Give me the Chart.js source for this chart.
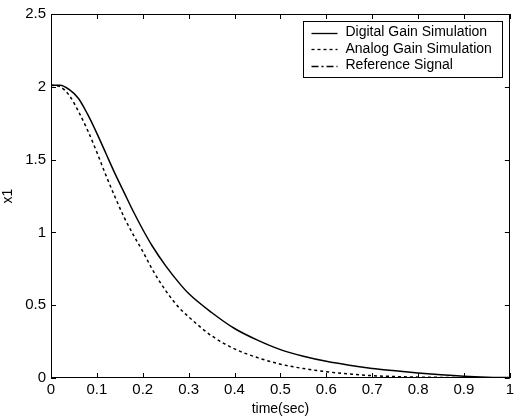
<!DOCTYPE html>
<html>
<head>
<meta charset="utf-8">
<script src="https://cdn.jsdelivr.net/npm/chart.js@4/dist/chart.umd.min.js"></script>
<style>
  html, body { margin: 0; padding: 0; background: #fff; }
  #wrap { width: 517px; height: 418px; }
</style>
</head>
<body>
<div id="wrap"><canvas id="x1Chart" width="517" height="418"></canvas></div>
<script>
// values
var timeSec = [0, 0.02, 0.04, 0.06, 0.08, 0.10, 0.12, 0.14, 0.16, 0.18, 0.20, 0.22, 0.25, 0.28, 0.30,
               0.35, 0.40, 0.45, 0.50, 0.55, 0.60, 0.65, 0.70, 0.75, 0.80, 0.85, 0.90, 0.95, 1.00];
var digitalGain = [2.01, 2.01, 1.98, 1.92, 1.81, 1.68, 1.54, 1.40, 1.27, 1.14, 1.02, 0.91, 0.77, 0.65, 0.58,
                   0.45, 0.34, 0.26, 0.195, 0.15, 0.115, 0.088, 0.066, 0.05, 0.035, 0.022, 0.012, 0.006, 0.003];
var analogGain = [2.01, 2.00, 1.94, 1.83, 1.70, 1.55, 1.39, 1.24, 1.10, 0.98, 0.87, 0.75, 0.60, 0.48, 0.42,
                  0.29, 0.20, 0.14, 0.095, 0.065, 0.043, 0.028, 0.016, 0.01, 0.006, 0.004, 0.002, 0.001, 0];
var referenceSignal = [0, 0, 0, 0, 0, 0, 0, 0, 0, 0, 0, 0, 0, 0, 0,
                       0, 0, 0, 0, 0, 0, 0, 0, 0, 0, 0, 0, 0, 0];

var legendLabels = ['Digital Gain Simulation', 'Analog Gain Simulation', 'Reference Signal'];
var legendDashes = [[], [3, 3], [7, 3, 2, 3]];

function toPoints(ys) {
    return timeSec.map(function(t, i) { return { x: t, y: ys[i] }; });
}

function fmt(v) {
    return String(Math.round(v * 10) / 10);
}

// box round the axes with inner tick marks, matlab style
var boxPlugin = {
    id: 'boxPlugin',
    afterDraw: function(chart) {
        var ctx = chart.ctx;
        var a = chart.chartArea;
        var xs = chart.scales.x, ys = chart.scales.y;
        ctx.save();
        ctx.strokeStyle = '#000';
        ctx.lineWidth = 1;
        ctx.strokeRect(Math.round(a.left) + 0.5, Math.round(a.top) + 0.5,
                       Math.round(a.right - a.left) - 1, Math.round(a.bottom - a.top) - 1);
        ctx.beginPath();
        xs.ticks.forEach(function(t) {
            var px = Math.round(xs.getPixelForValue(t.value)) + 0.5;
            ctx.moveTo(px, a.bottom); ctx.lineTo(px, a.bottom - 5);
            ctx.moveTo(px, a.top); ctx.lineTo(px, a.top + 5);
        });
        ys.ticks.forEach(function(t) {
            var py = Math.round(ys.getPixelForValue(t.value)) + 0.5;
            ctx.moveTo(a.left, py); ctx.lineTo(a.left + 5, py);
            ctx.moveTo(a.right, py); ctx.lineTo(a.right - 5, py);
        });
        ctx.stroke();

        // legend box in the upper right corner
        var bx = Math.round(a.right) - 206.5, by = Math.round(a.top) + 7.5;
        var bw = 199, bh = 56;
        ctx.fillStyle = '#fff';
        ctx.fillRect(bx, by, bw, bh);
        ctx.strokeRect(bx, by, bw, bh);
        ctx.font = '14px "Liberation Sans", Arial, sans-serif';
        ctx.fillStyle = '#000';
        ctx.textBaseline = 'middle';
        legendLabels.forEach(function(lbl, i) {
            var ly = by + 11 + i * 16.5;
            ctx.beginPath();
            ctx.setLineDash(legendDashes[i]);
            ctx.lineWidth = 1.3;
            ctx.moveTo(bx + 8, Math.round(ly) + 0.5);
            ctx.lineTo(bx + 34, Math.round(ly) + 0.5);
            ctx.stroke();
            ctx.setLineDash([]);
            ctx.fillText(lbl, bx + 42, ly);
        });
        ctx.restore();
    }
};

var data = {
    datasets: [{
        label: legendLabels[0],
        data: toPoints(digitalGain),
        borderColor: '#000',
        borderWidth: 1.5,
        pointRadius: 0,
        cubicInterpolationMode: 'monotone'
    }, {
        label: legendLabels[1],
        data: toPoints(analogGain),
        borderColor: '#000',
        borderWidth: 1.5,
        borderDash: legendDashes[1],
        pointRadius: 0,
        cubicInterpolationMode: 'monotone'
    }, {
        label: legendLabels[2],
        data: toPoints(referenceSignal),
        borderColor: '#000',
        borderWidth: 1.2,
        borderDash: legendDashes[2],
        pointRadius: 0
    }]
};

var tickFont = { family: '"Liberation Sans", Arial, sans-serif', size: 15 };
var titleFont = { family: '"Liberation Sans", Arial, sans-serif', size: 14 };

var options = {
    responsive: false,
    animation: false,
    layout: { padding: { top: 13, right: 1, left: 0, bottom: 0 } },
    plugins: { legend: { display: false }, tooltip: { enabled: false } },
    scales: {
        x: {
            type: 'linear',
            min: 0, max: 1,
            grid: { display: false, drawTicks: false },
            border: { display: false },
            ticks: { stepSize: 0.1, color: '#000', font: tickFont, padding: 3, maxRotation: 0,
                     callback: function(v) { return fmt(v); } },
            title: { display: true, text: 'time(sec)', color: '#000', font: titleFont, padding: { top: 2, bottom: 0 } },
            afterFit: function(s) { s.height = 40; }
        },
        y: {
            min: 0, max: 2.5,
            grid: { display: false, drawTicks: false },
            border: { display: false },
            ticks: { stepSize: 0.5, color: '#000', font: tickFont, padding: 5,
                     callback: function(v) { return fmt(v); } },
            title: { display: true, text: 'x1', color: '#000', font: titleFont, padding: 0 },
            afterFit: function(s) { s.width = 51; }
        }
    }
};

var ctx = document.getElementById('x1Chart').getContext('2d');
var x1Chart = new Chart(ctx, {
    type: 'line',
    data: data,
    options: options,
    plugins: [boxPlugin]
});
</script>
</body>
</html>
